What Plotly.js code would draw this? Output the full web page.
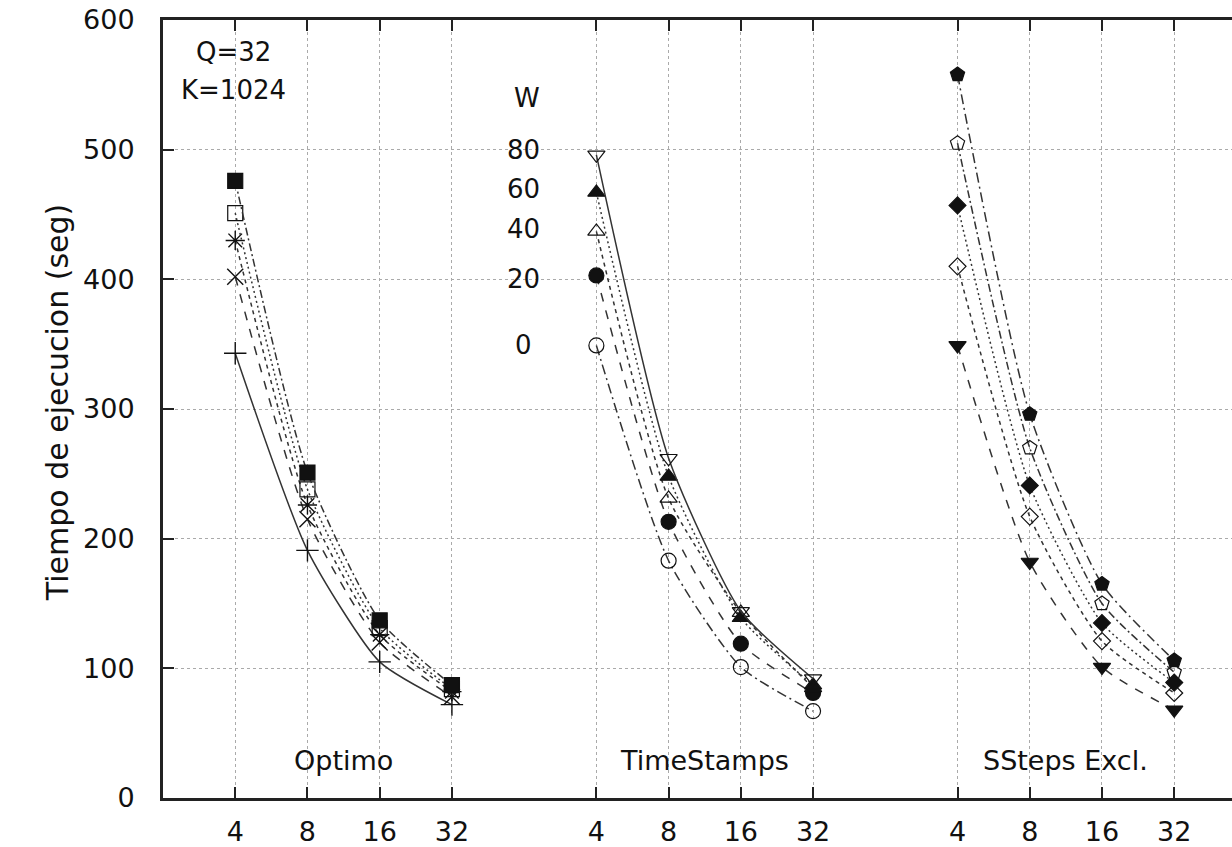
<!DOCTYPE html>
<html>
<head>
<meta charset="utf-8">
<script src="https://cdn.plot.ly/plotly-3.0.1.min.js"></script>
<style>html,body{margin:0;padding:0;background:#fff;}#chart{width:1232px;height:847px;}</style>
</head>
<body>
<div id="chart"></div>
<script>
// ---- data ----
const procs = ['4', '8', '16', '32'];
const groups = ['Optimo', 'TimeStamps', 'SSteps Excl.'];
const wLabels = ['0', '20', '40', '60', '80'];

const optimoW0  = [343, 191, 105, 72];
const optimoW20 = [402, 215, 120, 78];
const optimoW40 = [430, 226, 126, 82];
const optimoW60 = [451, 238, 131, 84];
const optimoW80 = [476, 251, 137, 87];

const tsW0  = [349, 183, 101, 67];
const tsW20 = [403, 213, 119, 81];
const tsW40 = [437, 231, 143, 85];
const tsW60 = [467, 248, 139, 87];
const tsW80 = [496, 262, 144, 92];

const ssW0  = [349, 182, 101, 68];
const ssW20 = [410, 217, 121, 81];
const ssW40 = [457, 241, 135, 89];
const ssW60 = [505, 270, 150, 97];
const ssW80 = [558, 296, 165, 106];

const annotQK = ['Q=32', 'K=1024'];
const yTitle = 'Tiempo de ejecucion (seg)';

// ---- build ----
const FONT = 'DejaVu Sans, Liberation Sans, Arial, sans-serif';
const INK = '#111';
function xs(g) { return procs.map((p, i) => g * 5 + i + 1); }

const seriesDefs = [
  // group, values, symbol, dash
  [0, optimoW0,  'cross-thin-open', 'solid'],
  [0, optimoW20, 'x-thin-open', 'dash'],
  [0, optimoW40, 'asterisk-open', '4px,4px'],
  [0, optimoW60, 'square-open', '2px,3px'],
  [0, optimoW80, 'square', '8px,3px,2px,3px'],
  [1, tsW0,  'circle-open', '10px,4px,2px,4px'],
  [1, tsW20, 'circle', 'dash'],
  [1, tsW40, 'triangle-up-open', '4px,4px'],
  [1, tsW60, 'triangle-up', '2px,3px'],
  [1, tsW80, 'triangle-down-open', 'solid'],
  [2, ssW0,  'triangle-down', 'dash'],
  [2, ssW20, 'diamond-open', '4px,4px'],
  [2, ssW40, 'diamond', '2px,3px'],
  [2, ssW60, 'pentagon-open', '8px,3px,2px,3px'],
  [2, ssW80, 'pentagon', '10px,4px,2px,4px']
];

const traces = seriesDefs.map((d, k) => {
  const thin = d[2].indexOf('thin') >= 0 || d[2].indexOf('asterisk') >= 0;
  const isDiamond = d[2].indexOf('diamond') >= 0;
  return {
    type: 'scatter',
    mode: 'lines+markers',
    name: groups[d[0]] + ' W=' + wLabels[k % 5],
    x: xs(d[0]),
    y: d[1],
    line: {color: '#333', width: 1.5, dash: d[3], shape: 'spline', smoothing: 0.6},
    marker: {
      symbol: d[2],
      size: thin ? 16 : (isDiamond ? 13 : 15),
      color: INK,
      line: {color: INK, width: thin ? 1.4 : 1.2}
    },
    showlegend: false,
    cliponaxis: false
  };
});

const tickvals = [];
const ticktext = [];
groups.forEach((g, gi) => { xs(gi).forEach((v, i) => { tickvals.push(v); ticktext.push(procs[i]); }); });

const annotations = [];
annotations.push({x: 0.97, y: 575, xref: 'x', yref: 'y', text: annotQK[0], showarrow: false, font: {family: FONT, size: 26, color: INK}});
annotations.push({x: 0.97, y: 546, xref: 'x', yref: 'y', text: annotQK[1], showarrow: false, font: {family: FONT, size: 26, color: INK}});
annotations.push({x: 5.04, y: 540, xref: 'x', yref: 'y', text: 'W', showarrow: false, font: {family: FONT, size: 26, color: INK}});
const wLabelY = [349, 400, 439, 470, 500];
wLabels.forEach((w, i) => {
  annotations.push({x: 4.99, y: wLabelY[i], xref: 'x', yref: 'y', text: w, showarrow: false, font: {family: FONT, size: 26, color: INK}});
});
groups.forEach((g, gi) => {
  annotations.push({x: gi * 5 + 2.5, y: 29, xref: 'x', yref: 'y', text: g, showarrow: false, font: {family: FONT, size: 27, color: INK}});
});
annotations.push({x: -0.117, y: 0.508, xref: 'paper', yref: 'paper', text: yTitle, textangle: -90, showarrow: false,
  font: {family: FONT, size: 30, color: INK}});

const layout = {
  width: 1232, height: 847,
  margin: {l: 163, r: 0, t: 20, b: 49},
  paper_bgcolor: '#fff', plot_bgcolor: '#fff',
  font: {family: FONT, size: 27, color: INK},
  showlegend: false,
  xaxis: {
    range: [0, 14.8],
    tickmode: 'array', tickvals: tickvals, ticktext: ticktext,
    ticks: 'inside', ticklen: 11, tickwidth: 2, tickcolor: '#222',
    showline: true, linewidth: 3, linecolor: '#222', mirror: 'allticks',
    showgrid: true, gridcolor: '#aaa', gridwidth: 1, griddash: 'dot',
    zeroline: false,
    ticklabelstandoff: 8,
    tickfont: {family: FONT, size: 27, color: INK}
  },
  yaxis: {
    range: [0, 600],
    tickvals: [0, 100, 200, 300, 400, 500, 600],
    ticks: 'inside', ticklen: 11, tickwidth: 2, tickcolor: '#222',
    showline: true, linewidth: 3, linecolor: '#222', mirror: false,
    showgrid: true, gridcolor: '#aaa', gridwidth: 1, griddash: 'dot',
    zeroline: false,
    ticklabelstandoff: 20,
    tickfont: {family: FONT, size: 27, color: INK}
  },
  annotations: annotations
};

Plotly.newPlot('chart', traces, layout, {staticPlot: true, displayModeBar: false});
</script>
</body>
</html>
